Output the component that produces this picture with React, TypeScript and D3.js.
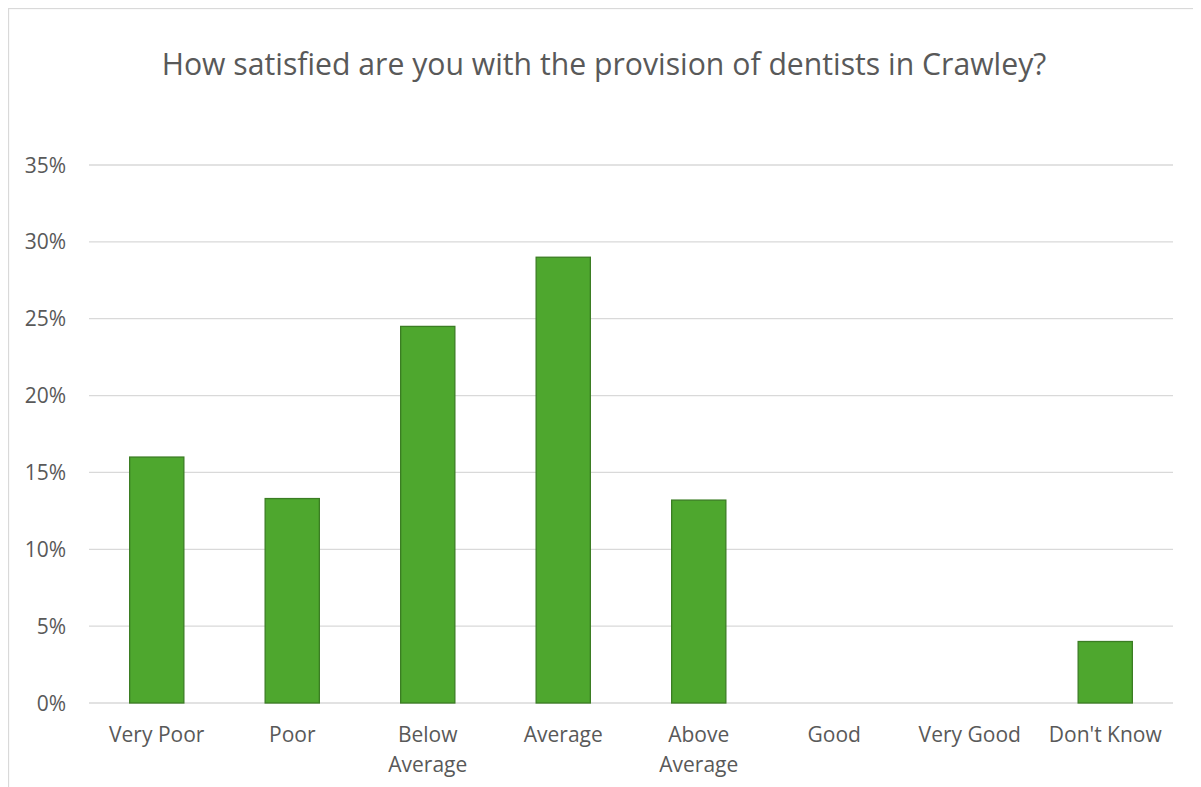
import * as d3 from "d3";
import React from "react";

const categories = [
	"Very Poor",
	"Poor",
	"Below Average",
	"Average",
	"Above Average",
	"Good",
	"Very Good",
	"Don't Know",
];
const values = [0.16, 0.133, 0.245, 0.29, 0.132, 0, 0, 0.04];
const yTicks = [0, 0.05, 0.1, 0.15, 0.2, 0.25, 0.3, 0.35];
const title = "How satisfied are you with the provision of dentists in Crawley?";

const WIDTH = 1193;
const HEIGHT = 779;
const margin = { top: 157, right: 28, bottom: 84, left: 81 };
const textColor = "#595959";
const font = "'Open Sans', 'Noto Sans', sans-serif";

// Excel wraps long category names onto two lines
function wrapLabel(label: string): string[] {
	if (label === "Below Average") return ["Below", "Average"];
	if (label === "Above Average") return ["Above", "Average"];
	return [label];
}

export default function App() {
	const innerW = WIDTH - margin.left - margin.right;
	const innerH = HEIGHT - margin.top - margin.bottom;

	const x = d3
		.scaleBand<string>()
		.domain(categories)
		.range([0, innerW])
		.paddingInner(0.6)
		.paddingOuter(0.3);
	const y = d3.scaleLinear().domain([0, 0.35]).range([innerH, 0]);
	const fmt = d3.format(".0%");

	return (
		<>
			<style>{"body{overflow:hidden}"}</style>
			<svg width={WIDTH} height={HEIGHT} style={{ display: "block" }}>
				<rect x={0} y={0} width={WIDTH} height={HEIGHT} fill="#fff" />
				<rect
					x={0.5}
					y={0.5}
					width={WIDTH + 10}
					height={HEIGHT + 10}
					fill="none"
					stroke="#d9d9d9"
					strokeWidth={1.3}
				/>
				<text
					x={596}
					y={67}
					textAnchor="middle"
					fontFamily={font}
					fontSize={30.2}
					fill={textColor}
				>
					{title}
				</text>
				<g transform={`translate(${margin.left},${margin.top})`}>
					{yTicks.map((t) => (
						<g key={t}>
							<line
								x1={0}
								x2={innerW}
								y1={y(t)}
								y2={y(t)}
								stroke="#d9d9d9"
								strokeWidth={1.3}
							/>
							<text
								x={-23}
								y={y(t)}
								dy="0.36em"
								textAnchor="end"
								fontFamily={font}
								fontSize={21}
								fill={textColor}
							>
								{fmt(t)}
							</text>
						</g>
					))}
					{categories.map((c, i) =>
						values[i] > 0 ? (
							<rect
								key={c}
								x={x(c)}
								y={y(values[i])}
								width={x.bandwidth()}
								height={innerH - y(values[i])}
								fill="#4ea72e"
								stroke="#3b7d23"
								strokeWidth={1.3}
							/>
						) : null,
					)}
					{categories.map((c) => (
						<text
							key={c}
							x={(x(c) ?? 0) + x.bandwidth() / 2}
							y={innerH + 39}
							textAnchor="middle"
							fontFamily={font}
							fontSize={21}
							fill={textColor}
						>
							{wrapLabel(c).map((line, j) => (
								<tspan key={line} x={(x(c) ?? 0) + x.bandwidth() / 2} dy={j === 0 ? 0 : 30}>
									{line}
								</tspan>
							))}
						</text>
					))}
				</g>
			</svg>
		</>
	);
}
